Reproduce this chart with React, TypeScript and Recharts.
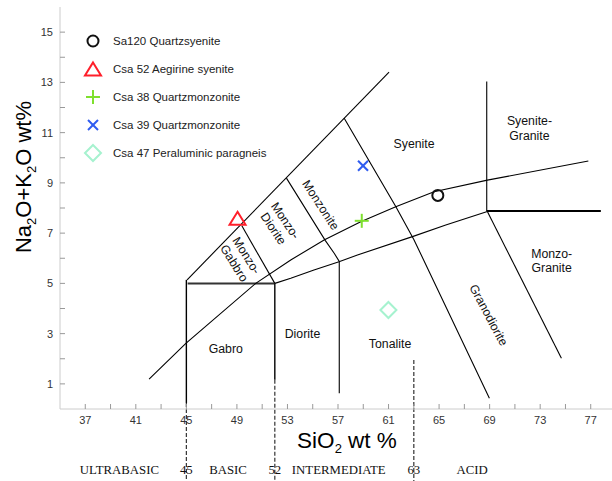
import React from 'react';
import { ComposedChart, XAxis, YAxis, Line, Scatter, ReferenceLine, Legend } from 'recharts';

const FONT = '"Liberation Sans", Arial, sans-serif';
const SERIF = '"Liberation Serif", "Times New Roman", serif';

// Axis ticks
const xTicks = [37, 39, 41, 43, 45, 47, 49, 51, 53, 55, 57, 59, 61, 63, 65, 67, 69, 71, 73, 75, 77];
const xTickLabels = [37, 41, 45, 49, 53, 57, 61, 65, 69, 73, 77];
const yTicks = [1, 2, 3, 4, 5, 6, 7, 8, 9, 10, 11, 12, 13, 14, 15];
const yTickLabels = [1, 3, 5, 7, 9, 11, 13, 15];

// Rock class band under the axis
const classTicks = [39.7, 45, 48.3, 52, 57.06, 63, 67.62];
const classNames = ['ULTRABASIC', '45', 'BASIC', '52', 'INTERMEDIATE', '63', 'ACID'];

// Samples
const sampleNames = [
  'Sa120 Quartzsyenite',
  'Csa 52 Aegirine syenite',
  'Csa 38 Quartzmonzonite',
  'Csa 39 Quartzmonzonite',
  'Csa 47 Peraluminic paragneis',
];
const sampleSiO2 = [64.9, 49.05, 58.88, 58.98, 60.99];
const sampleAlk = [8.5, 7.59, 7.49, 9.68, 3.94];
const sampleColors = ['#111111', '#ff1f2a', '#7ee02e', '#2f5cf0', '#a6f2cf'];
const sampleShapes = ['circle', 'triangle', 'plus', 'cross', 'diamond'];

// Field boundaries (SiO2, Na2O+K2O)
const outerBoundary = [{ x: 45.06, y: 5.14 }, { x: 61.04, y: 13.41 }];
const gabbroLeft = [{ x: 45, y: 5.14 }, { x: 45, y: 0.24 }];
const boxTop = [{ x: 45.1, y: 5.0 }, { x: 52, y: 5.0 }];
const dioriteLeft = [{ x: 52, y: 5.0 }, { x: 52, y: 1.16 }];
const monzogabbroDivider = [{ x: 49.39, y: 7.29 }, { x: 52, y: 5.0 }];
const monzodioriteDivider = [
  { x: 52.92, y: 9.19 }, { x: 56.0, y: 6.7 }, { x: 56.7, y: 6.2 }, { x: 57.1, y: 5.87 }, { x: 57.1, y: 0.63 },
];
const monzoniteDivider = [
  { x: 57.48, y: 11.58 }, { x: 61.57, y: 8.06 }, { x: 63.0, y: 6.75 }, { x: 68.98, y: 0.43 },
];
const upperAlkali = [
  { x: 42.05, y: 1.19 }, { x: 44.96, y: 2.61 }, { x: 50.49, y: 5.0 }, { x: 53.26, y: 5.93 },
  { x: 55.9, y: 6.73 }, { x: 58.8, y: 7.45 }, { x: 61.57, y: 8.05 }, { x: 64.6, y: 8.65 },
  { x: 68.82, y: 9.11 }, { x: 76.81, y: 9.87 },
];
const lowerAlkali = [
  { x: 52.0, y: 5.0 }, { x: 53.26, y: 5.2 }, { x: 55.1, y: 5.53 }, { x: 57.08, y: 5.86 },
  { x: 58.54, y: 6.13 }, { x: 62.89, y: 6.86 }, { x: 65.53, y: 7.32 }, { x: 68.82, y: 7.86 },
];
const graniteVertical = [{ x: 68.77, y: 13.03 }, { x: 68.77, y: 7.88 }];
const graniteHorizontal = [{ x: 68.77, y: 7.88 }, { x: 77.8, y: 7.88 }];
const granodioriteDivider = [{ x: 68.82, y: 7.86 }, { x: 74.68, y: 2.02 }];

const boundaryLines = [
  { pts: outerBoundary, w: 1.1, c: '#000' },
  { pts: gabbroLeft, w: 1.4, c: '#000' },
  { pts: boxTop, w: 2, c: '#333' },
  { pts: dioriteLeft, w: 1.4, c: '#000' },
  { pts: monzogabbroDivider, w: 1.1, c: '#000' },
  { pts: monzodioriteDivider, w: 1.1, c: '#000' },
  { pts: monzoniteDivider, w: 1.1, c: '#000' },
  { pts: upperAlkali, w: 1.1, c: '#000' },
  { pts: lowerAlkali, w: 1.1, c: '#000' },
  { pts: graniteVertical, w: 1.1, c: '#000' },
  { pts: graniteHorizontal, w: 2.2, c: '#000' },
  { pts: granodioriteDivider, w: 1.1, c: '#000' },
];

// Dashed class dividers
const dividerX = [45, 52, 63];
const dividerTop = [0.24, 1.16, 1.95];
const dividerBottom = -2.95;

// Field names
const regionLabels = [
  { x: 48.12, y: 2.39, lines: ['Gabro'], angle: 0 },
  { x: 54.19, y: 3.01, lines: ['Diorite'], angle: 0 },
  { x: 61.12, y: 2.59, lines: ['Tonalite'], angle: 0 },
  { x: 63.02, y: 10.54, lines: ['Syenite'], angle: 0 },
  { x: 72.15, y: 11.17, lines: ['Syenite-', 'Granite'], angle: 0 },
  { x: 73.91, y: 5.91, lines: ['Monzo-', 'Granite'], angle: 0 },
  { x: 68.93, y: 3.74, lines: ['Granodiorite'], angle: 62 },
  { x: 55.64, y: 8.12, lines: ['Monzonite'], angle: 57 },
  { x: 52.37, y: 7.34, lines: ['Monzo-', 'Diorite'], angle: 56 },
  { x: 49.28, y: 5.96, lines: ['Monzo-', 'Gabbro'], angle: 58 },
];

function Marker({ kind, cx, cy, color }: any) {
  switch (kind) {
    case 'circle':
      return <circle cx={cx} cy={cy} r={5.5} fill="none" stroke={color} strokeWidth={2} />;
    case 'triangle':
      return (
        <polygon
          points={`${cx},${cy - 6.5} ${cx + 8},${cy + 6.5} ${cx - 8},${cy + 6.5}`}
          fill="none" stroke={color} strokeWidth={2}
        />
      );
    case 'plus':
      return (
        <g stroke={color} strokeWidth={2}>
          <line x1={cx - 7} x2={cx + 7} y1={cy} y2={cy} />
          <line x1={cx} x2={cx} y1={cy - 7} y2={cy + 7} />
        </g>
      );
    case 'cross':
      return (
        <g stroke={color} strokeWidth={2}>
          <line x1={cx - 5} x2={cx + 5} y1={cy - 5} y2={cy + 5} />
          <line x1={cx - 5} x2={cx + 5} y1={cy + 5} y2={cy - 5} />
        </g>
      );
    default:
      return (
        <polygon
          points={`${cx},${cy - 8} ${cx + 8},${cy} ${cx},${cy + 8} ${cx - 8},${cy}`}
          fill="none" stroke={color} strokeWidth={2}
        />
      );
  }
}

const YTick = (props: any) => {
  const { x, y, payload } = props;
  const v = payload.value;
  return (
    <g>
      <line x1={x + 7} x2={x + 12} y1={y} y2={y} stroke="#999" />
      {yTickLabels.includes(v) && (
        <text x={x} y={y} dy={4} textAnchor="end" fontSize={11} fontFamily={FONT} fill="#333">{v}</text>
      )}
    </g>
  );
};

const XTick = (props: any) => {
  const { x, y, payload } = props;
  const v = payload.value;
  return (
    <g>
      <line x1={x} x2={x} y1={y - 6} y2={y - 11} stroke="#999" />
      {xTickLabels.includes(v) && (
        <text x={x} y={y} dy={9} textAnchor="middle" fontSize={11} fontFamily={FONT} fill="#333">{v}</text>
      )}
    </g>
  );
};

const ClassTick = (props: any) => {
  const { x, y, payload } = props;
  const i = classTicks.indexOf(payload.value);
  return (
    <text x={x} y={y} dy={15} textAnchor="middle" fontSize={12.8} fontFamily={SERIF} fill="#111">
      {classNames[i]}
    </text>
  );
};

const RegionLabel = (props: any) => {
  const { cx, cy, payload } = props;
  const lines: string[] = payload.lines;
  const first = 4.3 - ((lines.length - 1) * 14.5) / 2;
  return (
    <text
      x={cx} y={cy} textAnchor="middle" fontSize={12.3} fontFamily={FONT} fill="#111"
      transform={payload.angle ? `rotate(${payload.angle} ${cx} ${cy})` : undefined}
    >
      {lines.map((l, i) => (
        <tspan key={i} x={cx} dy={i === 0 ? first : 14.5}>{l}</tspan>
      ))}
    </text>
  );
};

const renderLegend = () => (
  <div style={{ fontFamily: FONT, fontSize: 11.5, color: '#222' }}>
    {sampleNames.map((n, i) => (
      <div key={n} style={{ display: 'flex', alignItems: 'center', height: 28.1 }}>
        <svg width={20} height={20} style={{ flex: 'none', overflow: 'visible' }}>
          <Marker kind={sampleShapes[i]} cx={10} cy={10} color={sampleColors[i]} />
        </svg>
        <span style={{ marginLeft: 10, whiteSpace: 'nowrap' }}>{n}</span>
      </div>
    ))}
  </div>
);

const xTitle = (p: any) => {
  const vb = p.viewBox;
  return (
    <text x={vb.x + vb.width / 2 + 9} y={vb.y + 39} textAnchor="middle" fontSize={22.5} fontFamily={FONT} fill="#000">
      SiO<tspan fontSize={13} dy={5}>2</tspan><tspan dy={-5}> wt %</tspan>
    </text>
  );
};

const yTitle = (p: any) => {
  const vb = p.viewBox;
  const x = vb.x + 31;
  const y = vb.y + 170;
  return (
    <text x={x} y={y} transform={`rotate(-90 ${x} ${y})`} textAnchor="middle" fontSize={22} fontFamily={FONT} fill="#000">
      Na<tspan fontSize={13} dy={5}>2</tspan><tspan dy={-5}>O+K</tspan><tspan fontSize={13} dy={5}>2</tspan><tspan dy={-5}>O wt%</tspan>
    </text>
  );
};

export default function App() {
  return (
    <div style={{ position: 'absolute', left: 0, top: 0, width: 612, height: 481, overflow: 'hidden', background: '#fff' }}>
      <ComposedChart width={620} height={481} margin={{ top: 7, right: 4, bottom: 0, left: 0 }}>
        <XAxis
          type="number" dataKey="x" domain={[35, 79]} ticks={xTicks} interval={0}
          height={50} tickSize={0} tickMargin={6} tickLine={false}
          axisLine={{ stroke: '#cccccc' }} tick={<XTick />} label={xTitle}
          allowDataOverflow
        />
        <XAxis
          xAxisId="cls" type="number" dataKey="x" domain={[35, 79]} ticks={classTicks} interval={0}
          height={22} tickSize={0} tickMargin={0} tickLine={false} axisLine={false}
          tick={<ClassTick />} allowDataOverflow
        />
        <YAxis
          type="number" dataKey="y" domain={[0, 16]} ticks={yTicks} interval={0}
          width={60} tickSize={0} tickMargin={7} tickLine={false}
          axisLine={{ stroke: '#cccccc' }} tick={<YTick />} label={yTitle}
          allowDataOverflow
        />
        {boundaryLines.map((b, i) => (
          <Line
            key={`b${i}`} data={b.pts} dataKey="y" type="linear" stroke={b.c} strokeWidth={b.w}
            dot={false} activeDot={false} isAnimationActive={false} legendType="none"
          />
        ))}
        {dividerX.map((x, i) => (
          <ReferenceLine
            key={`d${i}`}
            segment={[{ x, y: dividerTop[i] }, { x, y: dividerBottom }]}
            ifOverflow="visible" stroke="#333" strokeWidth={1.2} strokeDasharray="4 2"
          />
        ))}
        <Scatter data={regionLabels} shape={<RegionLabel />} isAnimationActive={false} legendType="none" />
        {sampleNames.map((n, i) => (
          <Scatter
            key={n} name={n} data={[{ x: sampleSiO2[i], y: sampleAlk[i] }]} isAnimationActive={false}
            shape={(p: any) => <Marker kind={sampleShapes[i]} cx={p.cx} cy={p.cy} color={sampleColors[i]} />}
          />
        ))}
        <Legend
          layout="vertical" align="center" verticalAlign="middle" content={renderLegend}
          wrapperStyle={{ top: 26.6, left: 83, width: 240, height: 141 }}
        />
      </ComposedChart>
    </div>
  );
}
